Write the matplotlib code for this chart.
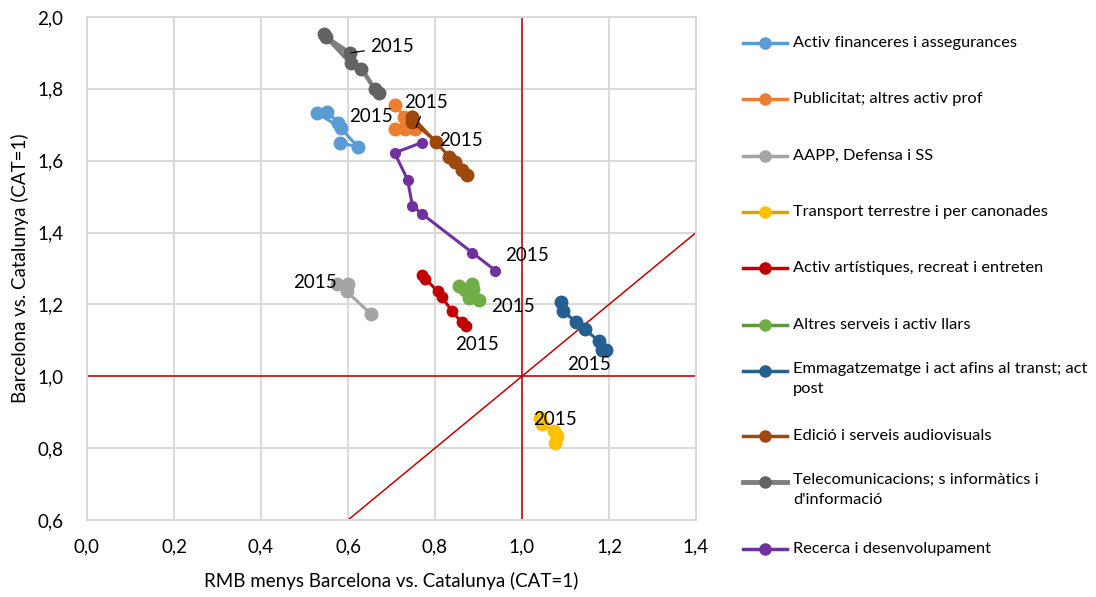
import matplotlib.pyplot as plt
from matplotlib.lines import Line2D
from matplotlib.ticker import FuncFormatter

plt.rcParams['font.family'] = ['Lato', 'DejaVu Sans']

# Sèries: RMB menys Barcelona (x) i Barcelona (y), índex CAT=1. L'últim punt és el 2015.
noms = [
    "Activ financeres i assegurances",
    "Publicitat; altres activ prof",
    "AAPP, Defensa i SS",
    "Transport terrestre i per canonades",
    "Activ artístiques, recreat i entreten",
    "Altres serveis i activ llars",
    "Emmagatzematge i act afins al transt; act\npost",
    "Edició i serveis audiovisuals",
    "Telecomunicacions; s informàtics i\nd'informació",
    "Recerca i desenvolupament",
]

financeres_x = [0.581, 0.622, 0.583, 0.528, 0.551, 0.578]
financeres_y = [1.650, 1.639, 1.692, 1.733, 1.736, 1.706]

publicitat_x = [0.709, 0.728, 0.746, 0.709, 0.730, 0.755]
publicitat_y = [1.756, 1.722, 1.722, 1.689, 1.689, 1.689]

aapp_x = [0.654, 0.597, 0.599, 0.574]
aapp_y = [1.172, 1.236, 1.258, 1.258]

transport_x = [1.076, 1.081, 1.074, 1.047, 1.042]
transport_y = [0.814, 0.833, 0.847, 0.867, 0.883]

artistiques_x = [0.771, 0.778, 0.806, 0.815, 0.838, 0.861, 0.872]
artistiques_y = [1.283, 1.272, 1.236, 1.222, 1.183, 1.150, 1.139]

altres_x = [0.856, 0.870, 0.886, 0.888, 0.879, 0.902]
altres_y = [1.250, 1.239, 1.258, 1.244, 1.219, 1.211]

emmag_x = [1.090, 1.095, 1.125, 1.145, 1.177, 1.184, 1.193]
emmag_y = [1.206, 1.181, 1.150, 1.131, 1.097, 1.072, 1.072]

edicio_x = [0.874, 0.861, 0.845, 0.833, 0.748, 0.748, 0.803]
edicio_y = [1.561, 1.575, 1.597, 1.611, 1.722, 1.708, 1.653]

telecom_x = [0.672, 0.661, 0.631, 0.606, 0.544, 0.549, 0.604]
telecom_y = [1.789, 1.800, 1.856, 1.872, 1.953, 1.944, 1.900]

recerca_x = [0.769, 0.707, 0.737, 0.748, 0.769, 0.886, 0.939]
recerca_y = [1.650, 1.622, 1.547, 1.475, 1.453, 1.344, 1.294]

series_x = [financeres_x, publicitat_x, aapp_x, transport_x, artistiques_x,
            altres_x, emmag_x, edicio_x, telecom_x, recerca_x]
series_y = [financeres_y, publicitat_y, aapp_y, transport_y, artistiques_y,
            altres_y, emmag_y, edicio_y, telecom_y, recerca_y]

# colors de línia i de marcador
colors_linia = ['#5b9bd5', '#ed7d31', '#a5a5a5', '#d6a400', '#c00000',
                '#5a9a3c', '#2b5d8e', '#9e480e', '#7f7f7f', '#7030a0']
colors_marc = ['#5b9bd5', '#ed7d31', '#a5a5a5', '#ffc000', '#c00000',
               '#70ad47', '#255e91', '#9e480e', '#636363', '#7030a0']
mida_marc = [9, 9, 9, 9, 7.5, 9, 9, 9, 9, 7]
gruix = [2.2, 2.2, 2.2, 2.2, 2.2, 2.2, 2.2, 2.2, 3.2, 2.2]

# posició de l'etiqueta "2015" respecte del darrer punt (px)
despl = [(33, 6), (11, 26), (-22, 1), (15, -1), (11, -18),
         (34, -6), (-17, -14), (25, 1), (42, 6), (32, 15)]
guia = [False, True, False, False, False, False, False, False, True, False]

fig = plt.figure(figsize=(10.96, 5.97), dpi=100)
ax = fig.add_axes([87 / 1096, 1 - 520 / 597, (696 - 87) / 1096, (520 - 17) / 597])

ax.set_xlim(0, 1.4)
ax.set_ylim(0.6, 2.0)
ax.set_xticks([0, 0.2, 0.4, 0.6, 0.8, 1.0, 1.2, 1.4])
ax.set_yticks([0.6, 0.8, 1.0, 1.2, 1.4, 1.6, 1.8, 2.0])
coma = FuncFormatter(lambda v, p: f"{v:.1f}".replace('.', ','))
ax.xaxis.set_major_formatter(coma)
ax.yaxis.set_major_formatter(coma)
ax.tick_params(length=0, labelsize=13.5, colors='#000000')
ax.tick_params(axis='x', pad=13)
ax.tick_params(axis='y', pad=17)
ax.grid(True, color='#d9d9d9', linewidth=1.4)
ax.set_axisbelow(True)
for s in ax.spines.values():
    s.set_color('#d9d9d9')
    s.set_linewidth(1.4)

# referències CAT=1
ax.axvline(1.0, color='#c00000', linewidth=1.1, zorder=1)
ax.axhline(1.0, color='#c00000', linewidth=1.1, zorder=1)
ax.plot([0.6, 1.4], [0.6, 1.4], color='#c00000', linewidth=1.1, zorder=1)

for i in range(len(noms)):
    ax.plot(series_x[i], series_y[i], color=colors_linia[i], linewidth=gruix[i],
            marker='o', markersize=mida_marc[i], markerfacecolor=colors_marc[i],
            markeredgecolor=colors_marc[i], zorder=3)
    x15, y15 = series_x[i][-1], series_y[i][-1]
    dx, dy = despl[i]
    if guia[i]:
        ax.annotate('2015', (x15, y15), xytext=(dx, dy), textcoords='offset pixels',
                    fontsize=13.5, ha='center', va='center', zorder=5,
                    arrowprops=dict(arrowstyle='-', color='black', linewidth=0.9,
                                    shrinkA=2, shrinkB=1))
    else:
        ax.annotate('2015', (x15, y15), xytext=(dx, dy), textcoords='offset pixels',
                    fontsize=13.5, ha='center', va='center', zorder=5)

ax.set_xlabel("RMB menys Barcelona vs. Catalunya (CAT=1)", fontsize=13.5, labelpad=12)
ax.set_ylabel("Barcelona vs. Catalunya (CAT=1)", fontsize=13.5, labelpad=6)

# llegenda a la dreta
y_ent = [43, 99, 156, 212, 268, 325, 371, 436, 482, 549]
for i in range(len(noms)):
    yf = 1 - y_ent[i] / 597
    fig.add_artist(Line2D([743 / 1096, 787 / 1096], [yf, yf], color=colors_linia[i],
                          linewidth=gruix[i] + 0.3, transform=fig.transFigure))
    fig.add_artist(Line2D([765 / 1096], [yf], marker='o', markersize=8,
                          color=colors_marc[i], transform=fig.transFigure))
    if '\n' in noms[i]:
        fig.text(793 / 1096, yf + 9 / 597, noms[i], fontsize=11.8, va='top',
                 linespacing=1.5)
    else:
        fig.text(793 / 1096, yf, noms[i], fontsize=11.8, va='center')

fig.savefig('out.png', dpi=100)
